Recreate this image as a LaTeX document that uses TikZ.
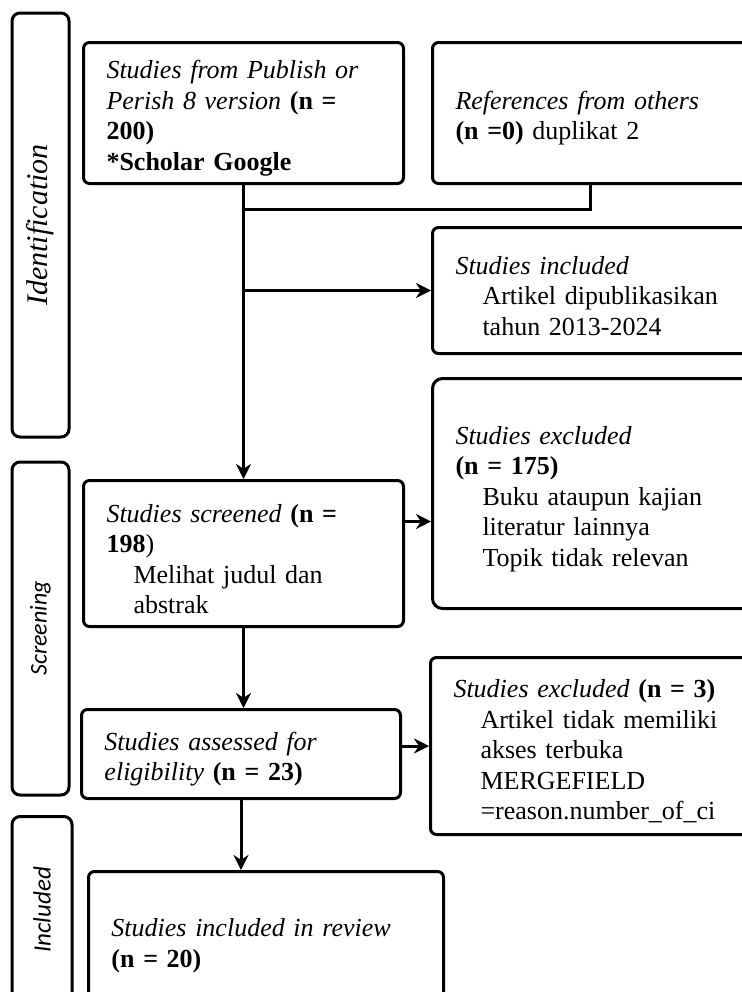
\documentclass[tikz,border=0pt]{standalone}
\usepackage{fontspec}
\setmainfont{Liberation Serif}
\newfontfamily\sidefont{Carlito}
\usetikzlibrary{arrows.meta}
\newcommand{\ind}{\hspace*{13.5pt}}
\newcommand{\topgap}{\rule{0pt}{14.5pt}}

\begin{document}
\begin{tikzpicture}[x=.5pt, y=-.5pt,
	box/.style={draw, line width=1.5pt, rounded corners=3pt, anchor=north west,
		inner xsep=11.5pt, inner ysep=0pt, align=left,
		font=\fontsize{13}{15.25}\selectfont},
	side/.style={draw, line width=1.5pt, rounded corners=4pt, rotate=90, inner sep=0pt,
		minimum height=28.5pt},
	line/.style={line width=1.5pt},
	arrow/.style={line width=1.5pt, -{Stealth[length=7.5pt, width=7.5pt]}}]
	\useasboundingbox (0,0) rectangle (741,992);
	%phases
	\node[side, minimum width=212pt, font=\fontsize{15}{18}\selectfont\itshape] (identside) at (40.5,225) {Identification};
	\node[side, minimum width=166.5pt, font=\fontsize{12}{14}\selectfont\sidefont\itshape] (screenside) at (40.5,628.5) {Screening};
	\node[side, minimum width=93.5pt, minimum height=30pt, font=\fontsize{12.5}{14}\selectfont\sidefont\itshape] (inclside) at (42,910) {Included};
	%boxes
	\node[box, text width=137pt, minimum height=70.5pt] (pub) at (82,41)
	{\topgap\textit{Studies from Publish or}\\ \textit{Perish 8 version} \textbf{(n =}\\ \textbf{200)}\\ \textbf{*Scholar Google}};
	\node[box, text width=147pt, minimum height=70.5pt] (ref) at (431,41)
	{\topgap\textit{References from others}\\ \textbf{(n =0)} duplikat 2};
	\node[box, text width=147pt, minimum height=63pt] (incl) at (431,226)
	{\topgap\textit{Studies included}\\ \ind Artikel dipublikasikan\\ \ind tahun 2013-2024};
	\node[box, rounded corners=5pt, text width=147pt, minimum height=115pt] (excl1) at (431,377)
	{\topgap\textit{Studies excluded}\\ \textbf{(n = 175)}\\ \ind Buku ataupun kajian\\ \ind literatur lainnya\\ \ind Topik tidak relevan};
	\node[box, text width=137pt, minimum height=73pt] (scr) at (82,479)
	{\topgap\textit{Studies screened} \textbf{(n =}\\ \textbf{198})\\ \ind Melihat judul dan\\ \ind abstrak};
	\node[box, text width=136.5pt, minimum height=44.5pt] (elig) at (80,708)
	{\topgap\textit{Studies assessed for}\\ \textit{eligibility} \textbf{(n = 23)}};
	\node[box, text width=148pt, minimum height=88.5pt] (excl2) at (429,656)
	{\topgap\textit{Studies excluded} \textbf{(n = 3)}\\ \ind Artikel tidak memiliki\\ \ind akses terbuka\\ \ind MERGEFIELD\\ \ind =reason.number\_of\_ci};
	\node[box, text width=154.5pt, minimum height=69pt] (rev) at (87,870)
	{\topgap\textit{Studies included in review}\\ \textbf{(n = 20)}};
	%connectors
	\coordinate (merge) at ([yshift=-12pt]pub.south);
	\draw[line] (ref.south west) ++(159,0) |- (merge);
	\draw[arrow] (pub.south) -- (scr.north);
	\draw[arrow] (pub.south |- incl.west) -- (incl.west);
	\draw[arrow] ([yshift=16pt]scr.east) -- ([yshift=16pt]scr.east -| excl1.west);
	\draw[arrow] (scr.south) -- (scr.south |- elig.north);
	\draw[arrow] (elig.east |- excl2.west) -- (excl2.west);
	\draw[arrow] (elig.south) -- (elig.south |- rev.north);
\end{tikzpicture}
\end{document}
